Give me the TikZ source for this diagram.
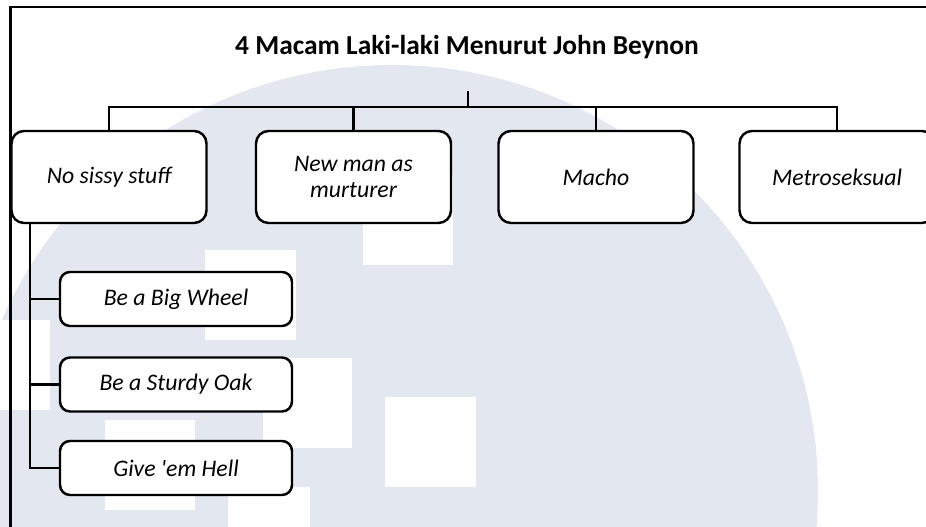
\documentclass[tikz,border=0pt]{standalone}
\usepackage{fontspec}
\setmainfont{Carlito}
\usepackage{tikz}
\usetikzlibrary{positioning}
\definecolor{wmark}{RGB}{227,231,239}

\begin{document}
\begin{tikzpicture}[
    topbox/.style={rectangle, rounded corners=0.25cm, draw=black, line width=1.4pt, fill=white, minimum height=1.84cm, minimum width=3.9cm, align=center, font=\fontsize{13.5}{15}\selectfont\itshape},
    subbox/.style={rectangle, rounded corners=0.2cm, draw=black, line width=1.4pt, fill=white, minimum height=1.08cm, minimum width=4.64cm, font=\fontsize{13.5}{15}\selectfont\itshape},
    link/.style={draw=black, line width=1.2pt}
]
    \clip (0,0) rectangle (18.52,10.54);

    % Watermark
    \fill[wmark] (7.84,0.72) circle (8.52);
    \foreach \x/\y/\u/\v in {4.1/3.74/5.92/5.54, 7.26/5.24/9.06/7.04, 5.26/1.58/7.04/3.38, 7.7/0.8/9.52/2.6, 2.1/0.34/3.9/2.14, 4.56/-1/6.2/0.8, -0.8/2.34/1.0/4.14}
        \fill[white] (\x,\y) rectangle (\u,\v);

    % Frame
    \draw[line width=1.2pt] (0.21,0) -- (0.21,10.4) -- (18.52,10.4);

    % Title
    \node[font=\fontsize{15.6}{18}\selectfont\bfseries] (title) at (9.34,9.6) {4 Macam Laki-laki Menurut John Beynon};

    % Four types
    \node[topbox] (nss) at (2.18,7.0) {No sissy stuff};
    \node[topbox] (nman) at (7.07,7.0) {New man as\\murturer};
    \node[topbox] (macho) at (11.92,7.0) {Macho};
    \node[topbox] (metro) at (16.74,7.0) {Metroseksual};

    % Sub types of no sissy stuff
    \node[subbox] (wheel) at (3.52,4.56) {Be a Big Wheel};
    \node[subbox] (oak) at (3.52,2.85) {Be a Sturdy Oak};
    \node[subbox] (hell) at (3.52,1.18) {Give \textquotesingle em Hell};

    % Connections
    \coordinate (stub) at (9.36,8.72);
    \coordinate (hub) at (9.36,8.4);
    \draw[link] (stub) -- (hub);
    \foreach \t in {nss,nman,macho,metro}
        \draw[link] (hub) -| (\t.north);

    \coordinate (spine) at ([xshift=0.4cm]nss.south west);
    \draw[link] (spine) |- (hell.west);
    \draw[link] (spine |- wheel.west) -- (wheel.west);
    \draw[link] (spine |- oak.west) -- (oak.west);
\end{tikzpicture}
\end{document}
